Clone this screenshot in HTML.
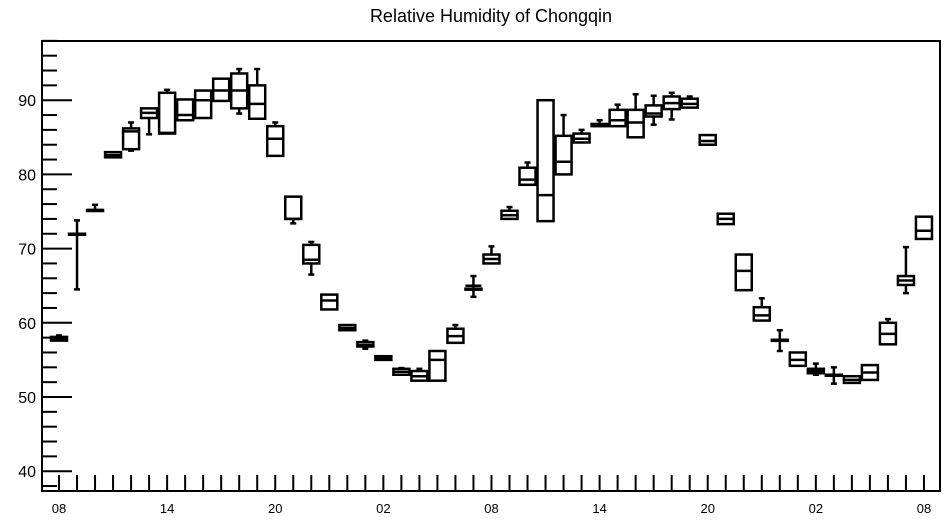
<!DOCTYPE html>
<html><head><meta charset="utf-8"><style>
body{margin:0;background:#fff;}
svg{display:block;font-family:"Liberation Sans",sans-serif;}
</style></head><body>
<svg id="chart" width="947" height="520" viewBox="0 0 947 520">
<text x="491" y="22" font-size="18" text-anchor="middle">Relative Humidity of Chongqin</text>
<rect x="42" y="41" width="898" height="450" fill="none" stroke="#000" stroke-width="2"/>
<g id="axes"></g><g id="marks"></g>
</svg>
<script>
const xLabels=["08","14","20","02","08","14","20","02","08"];
const yTicks=[40,50,60,70,80,90];
const q1=[57.6,72,75.2,82.3,83.4,87.6,85.5,87.3,87.6,89.9,88.9,87.5,82.5,74,68,61.8,59,56.8,55,53,52.2,52.2,57.3,64.6,68,74,78.6,73.7,80,84.3,86.5,86.5,85,87.8,88.8,89,84,73.3,64.4,60.3,57.7,54.2,53.2,53,51.9,52.3,57.1,65.1,71.3];
const q3=[58.1,72,75.2,83,86.2,88.9,91,90.1,91.3,92.9,93.6,92,86.5,77,70.5,63.8,59.7,57.4,55.5,53.8,53.5,56.2,59.2,64.6,69.2,75.1,80.9,90,85.2,85.5,86.8,88.7,88.7,89.3,90.5,90.2,85.3,74.7,69.2,62.1,57.7,56,53.8,53,52.8,54.3,60,66.3,74.3];
const med=[57.9,72,75.2,82.6,85.8,88.3,85.6,88,90,91.3,91.3,89.5,84.8,74,68.5,63,59.3,57,55.2,53.4,52.8,55,58.2,65,68.6,74.5,79.3,77.2,81.7,84.8,86.6,87.3,87,88.2,89.6,89.5,84.5,74,67,61,57.7,55,53.5,53,52.3,53.3,58.5,65.7,72.4];
const wLo=[57.7,64.5,75.2,82.3,83.2,85.4,85.5,87.3,87.6,89.9,88.2,87.5,82.5,73.4,66.5,61.8,59,56.5,55,53,52.2,52.2,57.3,63.5,68,74,78.6,73.7,80,84.3,86.5,86.5,85,86.7,87.4,89,84,73.3,64.4,60.3,56.2,54.2,53,51.8,51.9,52.3,57.1,64,71.3];
const wHi=[58.3,73.8,75.9,83,87,88.9,91.4,90.1,91.3,92.9,94.2,94.2,87,77,70.9,63.8,59.7,57.6,55.5,53.9,53.8,56.2,59.7,66.3,70.3,75.6,81.6,90,88,86,87.3,89.4,90.8,90.6,91,90.5,85.3,74.7,69.2,63.3,59,56,54.5,54,52.8,54.3,60.5,70.2,74.3];
const X=i=>59+i*18.02;
const Y=v=>397-(v-50)*7.42;
const NS="http://www.w3.org/2000/svg";
function mk(tag,attrs,parent){const e=document.createElementNS(NS,tag);for(const k in attrs)e.setAttribute(k,attrs[k]);parent.appendChild(e);return e;}
const axes=document.getElementById('axes'),marks=document.getElementById('marks');
for(let v=38;v<=98;v+=2){
 const major=v%10===0;
 const t=mk('line',{x1:42,x2:major?72:57,y1:Y(v),y2:Y(v),stroke:'#000','stroke-width':2},axes);
 
 
}
yTicks.forEach(v=>{
 const t=mk('text',{x:36,y:Y(v)+6,'font-size':16,'text-anchor':'end'},axes);t.textContent=v;
 
 
});
for(let i=0;i<q1.length;i++){
 const t=mk('line',{x1:X(i),x2:X(i),y1:475,y2:491,stroke:'#000','stroke-width':2},axes);
 
 
}
xLabels.forEach((s,k)=>{
 const t=mk('text',{x:X(k*6),y:513,'font-size':13,'text-anchor':'middle'},axes);t.textContent=s;
 
 
});
for(let i=0;i<q1.length;i++){
 const g=mk('g',{stroke:'#000','stroke-width':2.5,fill:'none'},marks);
 
 
 const x=X(i),w=8;
 if(wHi[i]>q3[i]){
  mk('line',{x1:x,x2:x,y1:Y(q3[i]),y2:Y(wHi[i])},g);
  mk('line',{x1:x-3,x2:x+3,y1:Y(wHi[i]),y2:Y(wHi[i])},g);
 }
 if(wLo[i]<q1[i]){
  mk('line',{x1:x,x2:x,y1:Y(q1[i]),y2:Y(wLo[i])},g);
  mk('line',{x1:x-3,x2:x+3,y1:Y(wLo[i]),y2:Y(wLo[i])},g);
 }
 mk('rect',{x:x-w,y:Y(q3[i]),width:2*w,height:Math.max(1,Y(q1[i])-Y(q3[i]))},g);
 mk('line',{x1:x-w,x2:x+w,y1:Y(med[i]),y2:Y(med[i])},g);
}
</script>
</body></html>
